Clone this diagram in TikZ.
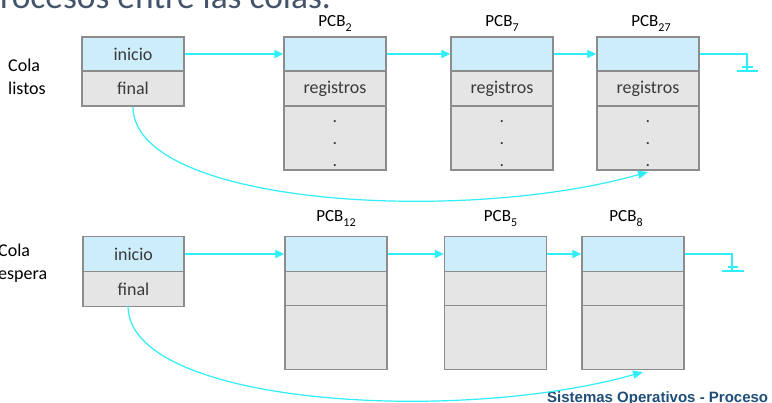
\documentclass[tikz,border=0pt]{standalone}
\usepackage{fontspec}
\setmainfont{Carlito}
\newfontfamily\footfont{Liberation Sans}
\usetikzlibrary{arrows.meta}
\definecolor{boxgray}{HTML}{8C8C8C}
\definecolor{hdrblue}{HTML}{CDEDFB}
\definecolor{cellgray}{HTML}{E5E5E5}
\definecolor{cyanline}{HTML}{30EEF7}
\definecolor{txtcol}{HTML}{3A3A3A}
\definecolor{titlecol}{HTML}{44546A}
\definecolor{footcol}{HTML}{1F4E79}
\newcommand{\pcbsub}[1]{PCB\raisebox{-0.28em}{\fontsize{12}{12}\selectfont #1}}
\tikzset{
  box/.style={draw=boxgray, line width=1.3pt, inner sep=0pt, text=txtcol,
    font=\fontsize{18}{18}\selectfont},
  hdr/.style={box, fill=hdrblue},
  cell/.style={box, fill=cellgray},
  conn/.style={draw=cyanline, line width=1.6pt, -{Triangle[length=9pt,width=8pt]}},
  curveconn/.style={draw=cyanline, line width=1.2pt, -{Triangle[length=10pt,width=8pt]}},
  gline/.style={draw=cyanline, line width=1.2pt},
  lbl/.style={inner sep=0pt, anchor=base, font=\fontsize{17}{17}\selectfont, text=black},
  side/.style={inner sep=0pt, anchor=base west, font=\fontsize{18}{18}\selectfont, text=black},
  dotmark/.style={inner sep=0pt, anchor=base, font=\fontsize{18}{18}\selectfont, text=txtcol},
}
\begin{document}
\begin{tikzpicture}[x=1pt,y=-1pt]
\useasboundingbox (0,0) rectangle (772,403);
\clip (0,0) rectangle (772,403);
\fill[white] (0,0) rectangle (772,403);

% title and footer
\node[inner sep=0pt, anchor=base east, font=\fontsize{35.4}{36}\selectfont, text=titlecol] (title) at (331,9) {procesos entre las colas.};
\node[inner sep=0pt, anchor=base west, font=\footfont\bfseries\fontsize{15}{15}\selectfont, text=footcol] (foot) at (547,402.5) {Sistemas Operativos - Proceso};

% ---------- top row: Cola listos ----------
\node[side] (cl1) at (8,72) {Cola};
\node[side] (cl2) at (8,95) {listos};

\node[hdr, minimum width=102pt, minimum height=34pt] (iA) at (133,54) {inicio};
\node[cell, minimum width=102pt, minimum height=35pt] (fA) at (133,88.5) {final};

\foreach \n/\cx in {p2/335, p7/502, p27/648}{
  \node[hdr, minimum width=102pt, minimum height=34pt] (\n h) at (\cx,54) {};
  \node[cell, minimum width=102pt, minimum height=35pt] (\n r) at (\cx,88.5) {registros};
  \node[cell, minimum width=102pt, minimum height=64pt] (\n d) at (\cx,138) {};
  \node[dotmark] (\n d1) at (\cx,122.5) {.};
  \node[dotmark] (\n d2) at (\cx,144.5) {.};
  \node[dotmark] (\n d3) at (\cx,166.5) {.};
}
\node[lbl] (l2) at (335,27) {\pcbsub{2}};
\node[lbl] (l7) at (502,27) {\pcbsub{7}};
\node[lbl] (l27) at (651,27) {\pcbsub{27}};

\draw[conn] (iA.east) -- (p2h.west);
\draw[conn] (p2h.east) -- (p7h.west);
\draw[conn] (p7h.east) -- (p27h.west);
\coordinate (g1) at (747,71);
\draw[gline] (p27h.east) -| (g1);
\draw[gline] ([xshift=-10pt]g1) -- ([xshift=11pt]g1);
\draw[gline] ([xshift=-5pt,yshift=4pt]g1) -- ([xshift=6pt,yshift=4pt]g1);
\coordinate (t1) at (648,172);
\draw[curveconn] (fA.south) .. controls (133,205) and (460,225) .. (t1);

% ---------- bottom row: Cola espera ----------
\node[side] (ce1) at (-2,257) {Cola};
\node[side] (ce2) at (-2,280) {espera};

\node[hdr, minimum width=101pt, minimum height=35pt] (iB) at (133.5,254) {inicio};
\node[cell, minimum width=101pt, minimum height=35pt] (fB) at (133.5,289) {final};

\foreach \n/\cx in {p12/336, p5/495.5, p8/633}{
  \node[hdr, minimum width=102pt, minimum height=35pt] (\n h) at (\cx,254) {};
  \node[cell, minimum width=102pt, minimum height=34pt] (\n r) at (\cx,288.5) {};
  \node[cell, minimum width=102pt, minimum height=64pt] (\n d) at (\cx,337.5) {};
}
\node[lbl] (l12) at (336,222) {\pcbsub{12}};
\node[lbl] (l5) at (500.5,222) {\pcbsub{5}};
\node[lbl] (l8) at (626,222) {\pcbsub{8}};

\draw[conn, line width=1.5pt] (iB.east) -- (p12h.west);
\draw[conn, line width=1.5pt] (p12h.east) -- (p5h.west);
\draw[conn, line width=1.5pt] (p5h.east) -- (p8h.west);
\coordinate (g2) at (732,271);
\draw[gline] (p8h.east) -| (g2);
\draw[gline] ([xshift=-10pt]g2) -- ([xshift=12pt]g2);
\draw[gline] ([xshift=-4pt,yshift=4pt]g2) -- ([xshift=6pt,yshift=4pt]g2);
\coordinate (s2) at (128,306);
\coordinate (t2) at (643,372);
\draw[curveconn] (s2) .. controls (128,405) and (455,425) .. (t2);
\end{tikzpicture}
\end{document}
